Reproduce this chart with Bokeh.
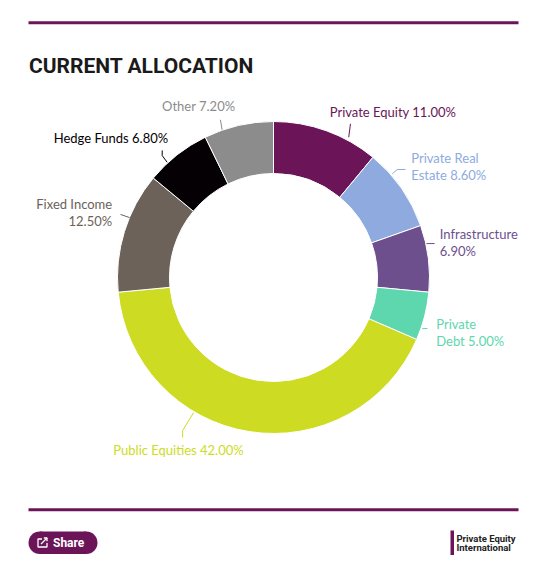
import math
from bokeh.plotting import figure
from bokeh.models import ColumnDataSource, Range1d
from bokeh.embed import file_html
from bokeh.resources import INLINE
from bokeh.core.properties import value

# ---------------- data ----------------
categories = ["Private Equity", "Private Real Estate", "Infrastructure", "Private Debt",
              "Public Equities", "Fixed Income", "Hedge Funds", "Other"]
shares = [11.00, 8.60, 6.90, 5.00, 42.00, 12.50, 6.80, 7.20]
colors = ["#6b1458", "#8eaadf", "#6d4f8e", "#5ed6ae",
          "#cddc23", "#6c6259", "#040004", "#8c8c8c"]
title_text = "CURRENT ALLOCATION"
share_text = "Share"
logo_lines = ["Private Equity", "International"]

# ---------------- layout ----------------
W, H = 528, 560
ACCENT = "#6b1458"
FONT = "Lato"
def X(sx): return sx
def Y(sy): return H - sy

CX, CY = X(273), Y(277)
R_OUT, R_IN = 156, 104

# label layout: connector polar points (deg clockwise from top, radius), text anchor, alignment, line-break word index
LABEL_LAYOUT = [
    dict(conn=[(26.6, 171.9), (28.2, 159.2)], text=(18.8, 174.6), align="left", brk=None),
    dict(conn=[(50.7, 170.6), (48.9, 164.2), (48.9, 157.6)], text=(51.1, 177.0), align="left", brk=2),
    dict(conn=[(78.1, 164.6), (77.5, 156.7)], text=(78.0, 170.0), align="left", brk=1),
    dict(conn=[(108.3, 162.2), (109.0, 157.3)], text=(108.7, 171.8), align="left", brk=1),
    dict(conn=[(209.6, 184.0), (210.7, 178.0), (210.6, 156.9)], text=(222.9, 235.3), align="left", brk=None),
    dict(conn=[(292.4, 165.5), (292.6, 156.0)], text=(292.0, 174.0), align="right", brk=2),
    dict(conn=[(318.8, 168.9), (317.6, 165.1), (317.3, 156.8)], text=(322.9, 174.6), align="right", brk=None),
    dict(conn=[(341.4, 166.4), (340.8, 156.4)], text=(347.5, 176.1), align="right", brk=None),
]

def polar(theta_deg, r):
    t = math.radians(theta_deg)
    return CX + r * math.sin(t), CY + r * math.cos(t)

p = figure(width=W, height=H, x_range=Range1d(0, W), y_range=Range1d(0, H),
           output_backend="svg", toolbar_location=None, x_axis_type=None, y_axis_type=None,
           min_border=0, outline_line_color=None, background_fill_color="white",
           border_fill_color="white")
p.grid.visible = False

# header rule and title
p.segment(x0=[X(28)], y0=[Y(22.3)], x1=[X(518)], y1=[Y(22.3)], line_color=ACCENT, line_width=3)
p.text(x=[X(28.5)], y=[Y(65)], text=[title_text], text_font=value("Roboto"), text_font_style="bold",
       text_font_size="21px", text_color="#1a1a1a", text_baseline="alphabetic", text_align="left")

# donut
total = sum(shares)
starts, ends = [], []
acc = 0.0
for v in shares:
    a0 = acc / total * 360.0
    acc += v
    a1 = acc / total * 360.0
    starts.append(math.pi / 2 - math.radians(a1))
    ends.append(math.pi / 2 - math.radians(a0))
src = ColumnDataSource(dict(cat=categories, val=shares, color=colors, start=starts, end=ends))
p.annular_wedge(x=CX, y=CY, inner_radius=R_IN, outer_radius=R_OUT, start_angle="start", end_angle="end",
                direction="anticlock", fill_color="color", line_color="white", line_width=1, source=src)

# labels + connectors
for cat, v, col, lay in zip(categories, shares, colors, LABEL_LAYOUT):
    words = f"{cat} {v:.2f}%".split(" ")
    if lay["brk"]:
        txt = " ".join(words[:lay["brk"]]) + "\n" + " ".join(words[lay["brk"]:])
    else:
        txt = " ".join(words)
    pts = [polar(a, r) for a, r in lay["conn"]]
    p.line(x=[q[0] for q in pts], y=[q[1] for q in pts], line_color=col, line_width=1)
    tx, ty = polar(*lay["text"])
    p.text(x=[tx], y=[ty], text=[txt], text_font=value(FONT), text_font_size="13px",
           text_color=col, text_align=lay["align"], text_baseline="middle", text_line_height=1.05)

# footer rule
p.segment(x0=[X(28)], y0=[Y(509.3)], x1=[X(518)], y1=[Y(509.3)], line_color=ACCENT, line_width=3)

# share button
br = 11.3
by = Y(542.3)
p.quad(left=[X(28) + br], right=[X(97) - br], top=[by + br], bottom=[by - br], fill_color=ACCENT, line_color=None)
p.circle(x=[X(28) + br, X(97) - br], y=[by, by], radius=br, fill_color=ACCENT, line_color=None)
# share icon
p.line(x=[X(41.5), X(37.5), X(37.5), X(46.5), X(46.5)], y=[Y(538.5), Y(538.5), Y(546.5), Y(546.5), Y(542.5)],
       line_color="white", line_width=1.3)
p.line(x=[X(40.5), X(46.5)], y=[Y(543.5), Y(537.5)], line_color="white", line_width=1.3)
p.line(x=[X(43.3), X(46.5), X(46.5)], y=[Y(537.5), Y(537.5), Y(540.7)], line_color="white", line_width=1.3)
p.text(x=[X(52.5)], y=[by], text=[share_text], text_font=value("Roboto"), text_font_style="bold",
       text_font_size="12px", text_color="white", text_align="left", text_baseline="middle")

# logo
p.quad(left=[X(450)], right=[X(453.5)], top=[Y(530)], bottom=[Y(554.5)], fill_color=ACCENT, line_color=None)
p.text(x=[X(456), X(456)], y=[Y(538), Y(547)], text=logo_lines, text_font=value("Roboto"),
       text_font_style="bold", text_font_size="9.5px", text_color="#222222",
       text_align="left", text_baseline="middle")

open("out.html", "w").write(file_html(p, INLINE))
